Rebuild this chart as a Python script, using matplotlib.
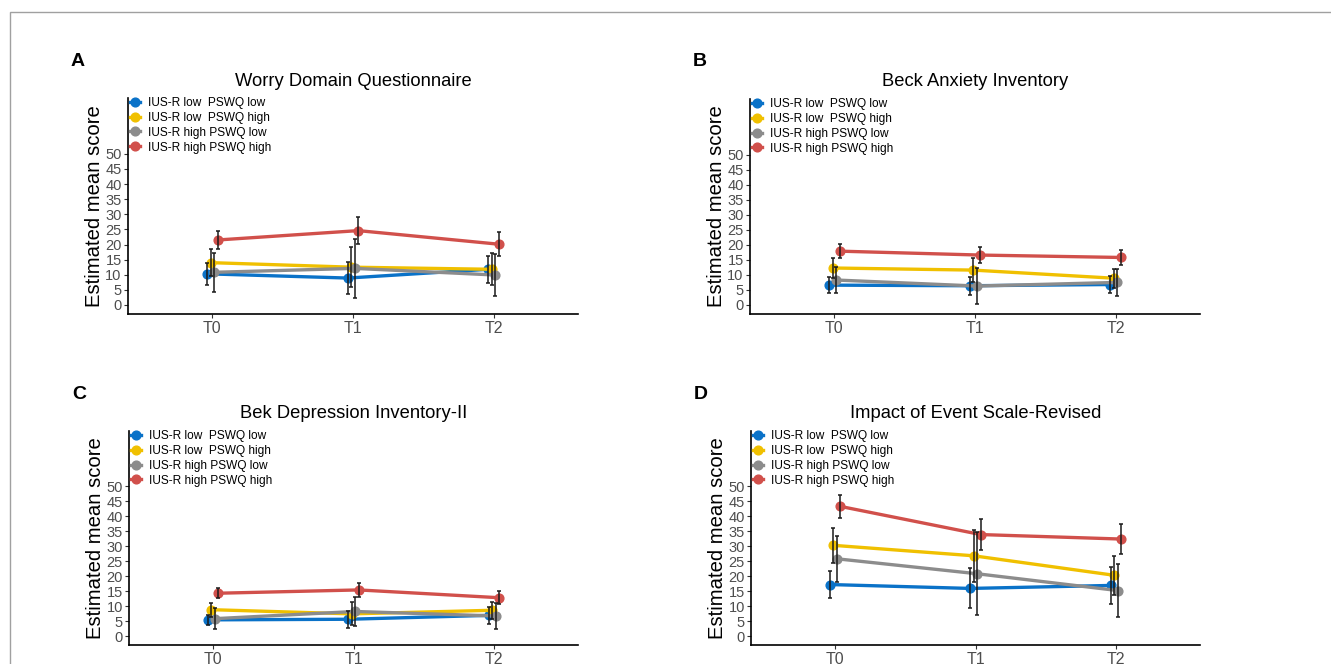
import matplotlib
matplotlib.use('Agg')
import matplotlib.pyplot as plt
from matplotlib.patches import Rectangle
import numpy as np

plt.rcParams['font.family'] = ['Liberation Sans', 'DejaVu Sans']

times = ['T0', 'T1', 'T2']
groups = ['IUS-R low  PSWQ low', 'IUS-R low  PSWQ high',
          'IUS-R high PSWQ low', 'IUS-R high PSWQ high']
colors = ['#0A72C8', '#F0C000', '#8C8C8C', '#D1504B']

titles = ['Worry Domain Questionnaire', 'Beck Anxiety Inventory',
          'Bek Depression Inventory-II', 'Impact of Event Scale-Revised']
letters = ['A', 'B', 'C', 'D']

# estimated means, rows = groups, cols = T0, T1, T2
wdq_mean = [[10.3, 8.9, 11.8], [14.0, 12.5, 11.8], [10.8, 12.1, 9.9], [21.5, 24.6, 20.1]]
wdq_ci = [[3.7, 5.3, 4.5], [4.4, 6.6, 5.3], [6.4, 9.8, 7.1], [3.1, 4.4, 3.9]]

bai_mean = [[6.6, 6.4, 6.8], [12.3, 11.6, 8.9], [8.3, 6.3, 7.5], [17.9, 16.6, 15.8]]
bai_ci = [[2.6, 3.0, 2.7], [3.2, 4.0, 3.2], [4.3, 6.1, 4.5], [2.3, 2.6, 2.5]]

bdi_mean = [[5.4, 5.6, 6.9], [8.8, 7.4, 8.6], [5.8, 8.2, 6.7], [14.3, 15.4, 12.8]]
bdi_ci = [[1.6, 2.8, 2.8], [2.3, 3.8, 2.8], [3.4, 5.0, 4.2], [1.6, 2.2, 2.2]]

ies_mean = [[17.2, 15.9, 16.9], [30.3, 26.8, 20.3], [25.8, 20.8, 15.2], [43.3, 33.9, 32.4]]
ies_ci = [[4.5, 6.7, 6.1], [5.8, 8.7, 6.5], [7.7, 13.9, 9.0], [3.8, 5.3, 5.0]]

means = [wdq_mean, bai_mean, bdi_mean, ies_mean]
cis = [wdq_ci, bai_ci, bdi_ci, ies_ci]

W, H = 1331, 664
fig = plt.figure(figsize=(W / 100, H / 100), dpi=100)

# panel boxes in pixels: left, top, right, bottom
boxes = [(128, 98, 578, 314), (750, 99, 1200, 314),
         (129, 431, 578, 645), (751, 431, 1200, 645)]

dodge = [-0.0375, -0.0125, 0.0125, 0.0375]
x = np.arange(len(times))

for k in range(4):
    l, t, r, b = boxes[k]
    ax = fig.add_axes([l / W, 1 - b / H, (r - l) / W, (b - t) / H])
    m = np.array(means[k])
    c = np.array(cis[k])
    for g in range(4):
        xx = x + dodge[g]
        ax.plot(xx, m[g], color=colors[g], lw=2.4, marker='o', ms=6.3,
                mec=colors[g], label=groups[g], zorder=2 + g * 0.1)
    for g in range(4):
        xx = x + dodge[g]
        ax.errorbar(xx, m[g], yerr=c[g], fmt='none', ecolor='#1a1a1a',
                    elinewidth=1.1, capsize=1.6, capthick=1.1, zorder=4)
    ax.set_xlim(-0.6, 2.6)
    ax.set_ylim(-3, 68.5)
    ax.set_xticks(x)
    ax.set_xticklabels(times)
    ax.set_yticks(np.arange(0, 51, 5))
    for s in ['top', 'right']:
        ax.spines[s].set_visible(False)
    for s in ['left', 'bottom']:
        ax.spines[s].set_linewidth(1.2)
    ax.tick_params(axis='y', labelsize=10.5, colors='#333333', labelcolor='#4D4D4D',
                   length=3, pad=1.5)
    ax.tick_params(axis='x', labelsize=11.5, colors='#333333', labelcolor='#4D4D4D',
                   length=3, pad=2)
    ax.set_ylabel('Estimated mean score', fontsize=14.6, labelpad=1)
    ax.set_title(titles[k], fontsize=13.2, pad=9)
    ax.legend(loc='upper left', bbox_to_anchor=(0.0, 1.016), frameon=False,
              fontsize=8.6, handlelength=0.8, handletextpad=0.7,
              labelspacing=0.24, borderaxespad=0, borderpad=0.2)
    fig.text((l - 50) / W, 1 - (t - 37) / H, letters[k], fontsize=14,
             fontweight='bold', ha='center', va='center')

fig.add_artist(Rectangle((10 / W, -0.1), 1.5, 1 - 12 / H + 0.1, fill=False,
                         edgecolor='#a0a0a0', lw=1.0, transform=fig.transFigure))

fig.savefig('out.png', dpi=100)
